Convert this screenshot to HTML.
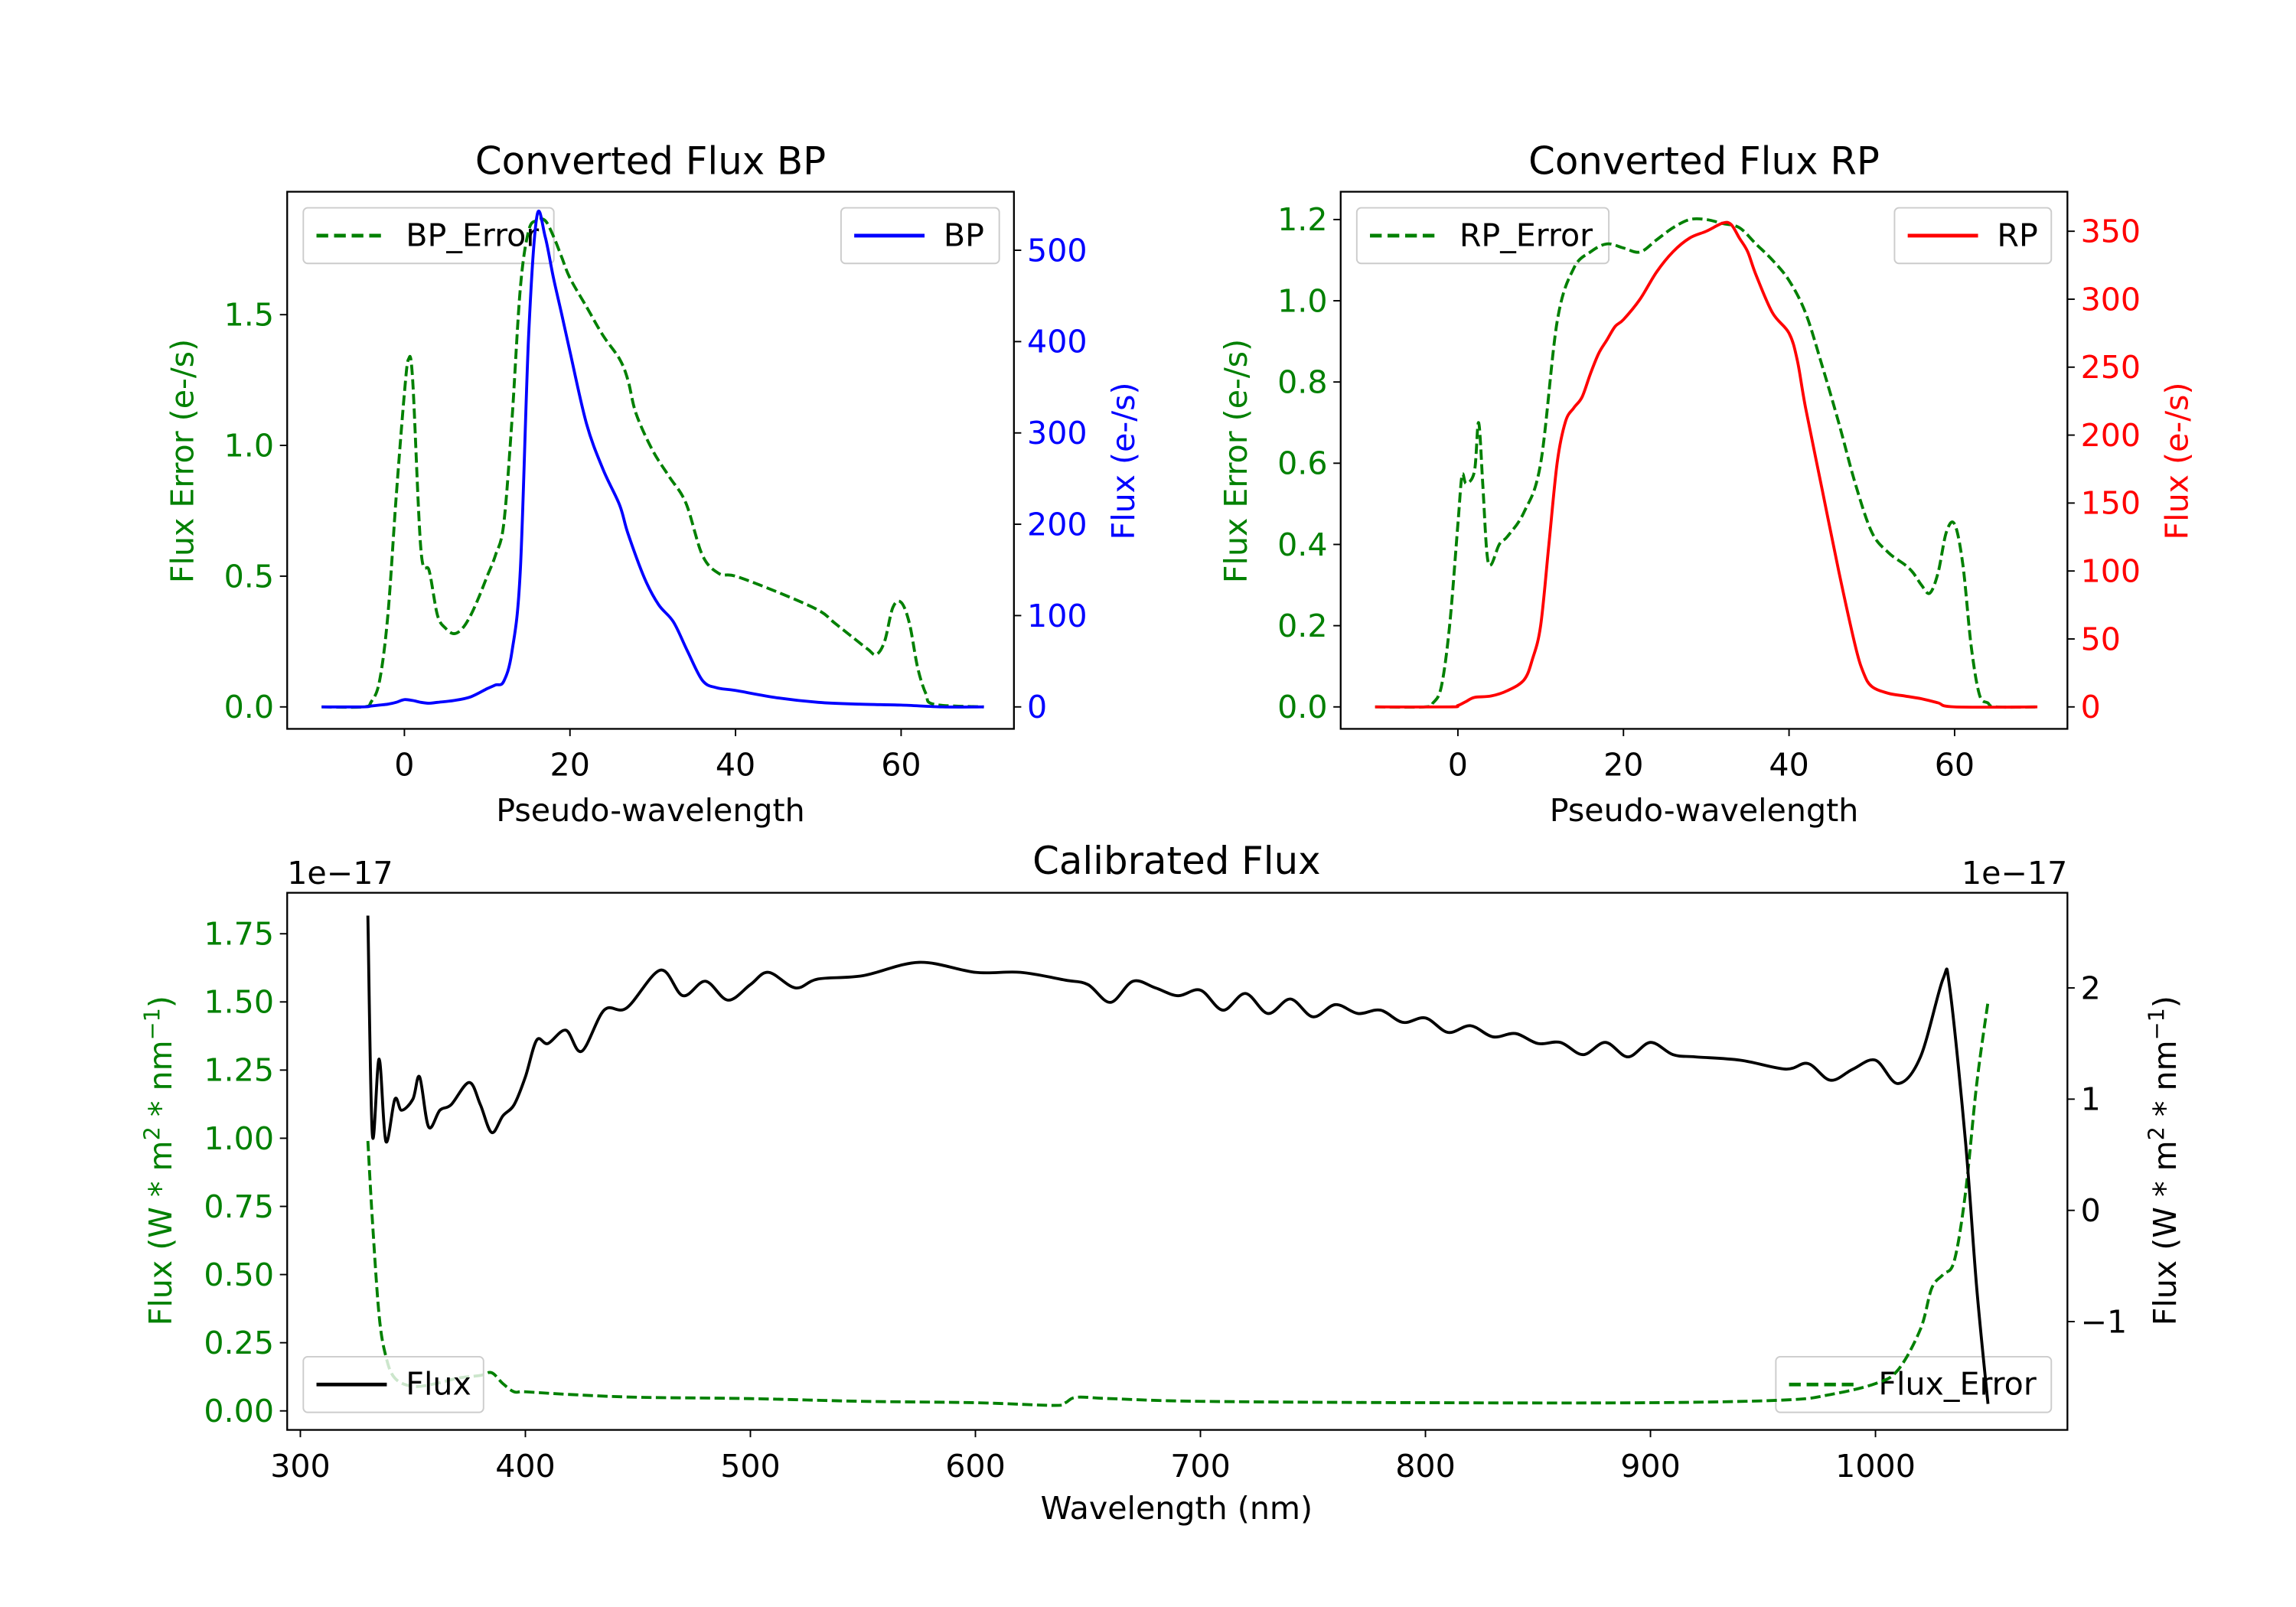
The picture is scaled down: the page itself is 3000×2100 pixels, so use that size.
<!DOCTYPE html>
<html><head><meta charset="utf-8"><style>
html,body{margin:0;padding:0;background:#fff}
svg{display:block}
text{font-family:"DejaVu Sans","Liberation Sans",sans-serif}
</style></head><body>
<svg id="fig" xmlns="http://www.w3.org/2000/svg" width="3000" height="2100" viewBox="0 0 1567 1098" preserveAspectRatio="none">
<rect width="1567" height="1098" fill="#fff"/>
</svg>
<script>
// ---- data ----
const bpX = [-10,-5,-4,-3,-2,-1,0,1,2,3,4,6,8,10,11,12,13,14,15,16,17,18,19,20,22,24,26,27,29,30.7,32.5,34.2,36,37.7,40,45,50,55,60,65,70];
const bpFlux = [0,0,1,2,3,5,8,7,5,4,5,7,11,20,24,28,61,149,405,537,515,470,430,389,310,260,221,190,141,112,93,61,29,21,18,10,5,3,2,0,0];
const bpErrX = [-10,-5,-4,-3,-2,-1,0,0.5,1,2,3,4,5,6,7,8,9,10,11,12,13,14,15,16,17,18,19,20,22,24,26,27,28,30,32,34,36,38,40,45,50,52,54,56,57,58,59,60,61,62,63,64,70];
const bpErr = [0,0,0.02,0.1,0.35,0.8,1.2,1.33,1.25,0.6,0.52,0.35,0.3,0.28,0.3,0.35,0.42,0.5,0.58,0.7,1.1,1.6,1.82,1.86,1.86,1.8,1.72,1.64,1.53,1.42,1.33,1.25,1.12,0.98,0.88,0.78,0.58,0.51,0.5,0.44,0.37,0.32,0.27,0.22,0.2,0.25,0.38,0.4,0.32,0.15,0.05,0.01,0];
const rpX = [-10,-1,0,1,2,4,6,8,9,10,11,12,13,14,15,16,17,18,19,20,22,24,26,28,30,32,33,34,35,36,38,40,41,42,44,46,48,49,50,52,54,56,58,60,70];
const rpFlux = [0,0,1,4,7,8,12,20,35,60,120,180,210,220,228,245,260,270,280,285,300,320,335,345,350,356,355,345,335,318,290,275,255,220,160,100,45,25,15,10,8,6,3,0,0];
const rpErrX = [-10,-4,-3,-2,-1,0,0.5,1,2,2.5,3,3.5,4,5,6,8,10,12,14,16,18,20,22,24,26,28,30,32,34,36,38,40,42,44,46,48,50,52,54,55,56,57,58,59,60,61,62,63,64,65,70];
const rpErr = [0,0,0.01,0.05,0.2,0.45,0.57,0.55,0.58,0.7,0.55,0.38,0.35,0.4,0.42,0.48,0.6,0.95,1.08,1.12,1.14,1.13,1.12,1.15,1.18,1.2,1.2,1.19,1.18,1.14,1.1,1.05,0.97,0.84,0.7,0.55,0.43,0.38,0.35,0.33,0.3,0.28,0.33,0.43,0.45,0.35,0.15,0.03,0.01,0,0];
const calX = [330,332,335,338,342,345,350,353,357,362,367,375,380,385,390,395,400,405,410,418,425,435,445,460,470,480,490,500,508,520,530,550,575,600,620,640,650,660,670,680,690,700,710,720,730,740,750,760,770,780,790,800,810,820,830,840,850,860,870,880,890,900,910,920,940,960,970,980,990,1000,1010,1020,1030,1033,1040,1045,1050];
const calFlux = [2.65,0.68,1.36,0.62,1.0,0.9,1.0,1.2,0.75,0.9,0.95,1.15,0.95,0.7,0.85,0.95,1.2,1.53,1.5,1.62,1.43,1.8,1.82,2.16,1.93,2.06,1.89,2.03,2.14,2.0,2.08,2.11,2.23,2.14,2.14,2.07,2.03,1.87,2.06,2.0,1.93,1.98,1.8,1.95,1.77,1.9,1.74,1.85,1.77,1.8,1.69,1.73,1.6,1.66,1.56,1.59,1.5,1.51,1.4,1.51,1.38,1.51,1.4,1.38,1.35,1.27,1.32,1.17,1.27,1.35,1.14,1.38,2.08,2.0,0.62,-0.7,-1.74];
const calErrX = [330,332,335,338,342,350,360,370,380,385,390,395,400,420,450,500,550,600,635,640,645,660,700,800,900,960,980,1000,1010,1020,1025,1030,1035,1040,1045,1050];
const calErr = [0.99,0.7,0.35,0.2,0.12,0.09,0.1,0.12,0.13,0.14,0.1,0.07,0.07,0.06,0.05,0.045,0.035,0.03,0.02,0.03,0.05,0.045,0.035,0.03,0.03,0.04,0.06,0.1,0.15,0.3,0.45,0.5,0.55,0.8,1.2,1.5];
const bpTicksX=[0,20,40,60], bpTicksL=[0,0.5,1.0,1.5], bpTicksR=[0,100,200,300,400,500];
const rpTicksL=[0,0.2,0.4,0.6,0.8,1.0,1.2], rpTicksR=[0,50,100,150,200,250,300,350];
const calTicksX=[300,400,500,600,700,800,900,1000], calTicksL=[0,0.25,0.5,0.75,1.0,1.25,1.5,1.75], calTicksR=[-1,0,1,2];

const NS='http://www.w3.org/2000/svg', svg=document.getElementById('fig');
const FS=21.5, TS=26;
function el(tag,attrs,parent,txt){const e=document.createElementNS(NS,tag);for(const k in attrs)e.setAttribute(k,attrs[k]);if(txt!==undefined)e.textContent=txt;(parent||svg).appendChild(e);return e;}
function lin(d0,d1,p0,p1){return v=>p0+(v-d0)*(p1-p0)/(d1-d0);}
function smoothPath(pts){
  let d='M'+pts[0][0].toFixed(2)+','+pts[0][1].toFixed(2);
  for(let i=0;i<pts.length-1;i++){
    const p0=pts[Math.max(0,i-1)],p1=pts[i],p2=pts[i+1],p3=pts[Math.min(pts.length-1,i+2)];
    const t=0.5/3;
    const c1=[p1[0]+(p2[0]-p0[0])*t,p1[1]+(p2[1]-p0[1])*t];
    const c2=[p2[0]-(p3[0]-p1[0])*t,p2[1]-(p3[1]-p1[1])*t];
    d+=' C'+c1.map(v=>v.toFixed(2)).join(',')+' '+c2.map(v=>v.toFixed(2)).join(',')+' '+p2[0].toFixed(2)+','+p2[1].toFixed(2);
  }
  return d;
}
function line(xs,ys,fx,fy,color,dash,name){
  const pts=xs.map((x,i)=>[fx(x),fy(ys[i])]);
  const p=el('path',{d:smoothPath(pts),fill:'none',stroke:color,'stroke-width':2,'stroke-linejoin':'round','stroke-dasharray':dash?'7,3':'none'});
  
  
}
function yTicks(ticks,fy,x,side,color,fmt,name){
  ticks.forEach(t=>{const y=fy(t);
    el('line',{x1:x,x2:x+(side<0?-5:5),y1:y,y2:y,stroke:'#000','stroke-width':1});
    const tx=el('text',{x:side<0?x-9:x+9,y:y+7.5,'font-size':FS,fill:color,'text-anchor':side<0?'end':'start'},svg,fmt(t));
    
    
  });
}
function xTicks(ticks,fx,y,name){
  ticks.forEach(t=>{const x=fx(t);
    el('line',{x1:x,x2:x,y1:y,y2:y+5,stroke:'#000','stroke-width':1});
    const tx=el('text',{x:x,y:y+32,'font-size':FS,'text-anchor':'middle'},svg,String(t));
    
    
  });
}
function legend(x,y,w,label,color,dash,name){
  const g=el('g',{});
  
  
  el('rect',{x:x,y:y,width:w,height:38,rx:3,fill:'#fff','fill-opacity':0.8,stroke:'#ccc','stroke-width':1},g);
  el('line',{x1:x+9,x2:x+57,y1:y+19,y2:y+19,stroke:color,'stroke-width':2.5,'stroke-dasharray':dash?'8,4':'none'},g);
  el('text',{x:x+70,y:y+26,'font-size':FS},g,label);
}
function label(x,y,txt,color,rot,size,name,anchor){
  const t=el('text',{x:x,y:y,'font-size':size||FS,fill:color||'#000','text-anchor':anchor||'middle',transform:rot?`rotate(-90 ${x} ${y})`:''},svg,txt);
  
  
  return t;
}
const G='#008000';
const f1=v=>v.toFixed(1), f0=v=>String(v), f2=v=>v.toFixed(2), fm=v=>v<0?'\u2212'+(-v):String(v);

// ---- BP panel ----
{const L=196,R=692,T=131,B=498;
 const fx=lin(0,20,276,389), fyL=lin(0,1.5,483,215), fyR=lin(0,500,483,171);
 el('rect',{x:L,y:T,width:R-L,height:B-T,fill:'#fff'});
 legend(207,142,171,'BP_Error',G,true,'bp-error-legend');
 line(bpErrX,bpErr,fx,fyL,G,true,'bp-error-line');
 legend(574,142,108,'BP','#0000ff',false,'bp-legend');
 line(bpX,bpFlux,fx,fyR,'#0000ff',false,'bp-flux-line');
 el('rect',{x:L,y:T,width:R-L,height:B-T,fill:'none',stroke:'#000','stroke-width':1.2});
 xTicks(bpTicksX,fx,B,'bp-x-tick');
 yTicks(bpTicksL,fyL,L,-1,G,f1,'bp-left-tick');
 yTicks(bpTicksR,fyR,R,1,'#0000ff',f0,'bp-right-tick');
 label(444,119,'Converted Flux BP','#000',false,TS,'bp-title');
 label(444,561,'Pseudo-wavelength','#000',false,FS,'bp-x-title');
 label(132,315,'Flux Error (e-/s)',G,true,FS,'bp-left-y-title');
 label(774,315,'Flux (e-/s)','#0000ff',true,FS,'bp-right-y-title');
}
// ---- RP panel ----
{const L=915,R=1411,T=131,B=498;
 const fx=lin(0,20,995,1108), fyL=lin(0,1.2,483,150), fyR=lin(0,350,483,158);
 el('rect',{x:L,y:T,width:R-L,height:B-T,fill:'#fff'});
 legend(926,142,172,'RP_Error',G,true,'rp-error-legend');
 line(rpErrX,rpErr,fx,fyL,G,true,'rp-error-line');
 legend(1293,142,107,'RP','#ff0000',false,'rp-legend');
 line(rpX,rpFlux,fx,fyR,'#ff0000',false,'rp-flux-line');
 el('rect',{x:L,y:T,width:R-L,height:B-T,fill:'none',stroke:'#000','stroke-width':1.2});
 xTicks(bpTicksX,fx,B,'rp-x-tick');
 yTicks(rpTicksL,fyL,L,-1,G,f1,'rp-left-tick');
 yTicks(rpTicksR,fyR,R,1,'#ff0000',f0,'rp-right-tick');
 label(1163,119,'Converted Flux RP','#000',false,TS,'rp-title');
 label(1163,561,'Pseudo-wavelength','#000',false,FS,'rp-x-title');
 label(851,315,'Flux Error (e-/s)',G,true,FS,'rp-left-y-title');
 label(1493,315,'Flux (e-/s)','#ff0000',true,FS,'rp-right-y-title');
}
// ---- Calibrated panel ----
{const L=196,R=1411,T=610,B=977;
 const fx=lin(300,1000,205,1280), fyL=lin(0,1.75,964,638), fyR=lin(0,2,827,675);
 el('rect',{x:L,y:T,width:R-L,height:B-T,fill:'#fff'});
 legend(1212,927,188,'Flux_Error',G,true,'flux-error-legend');
 line(calErrX,calErr,fx,fyL,G,true,'flux-error-line');
 legend(207,927,123,'Flux','#000',false,'flux-legend');
 line(calX,calFlux,fx,fyR,'#000',false,'flux-line');
 el('rect',{x:L,y:T,width:R-L,height:B-T,fill:'none',stroke:'#000','stroke-width':1.2});
 xTicks(calTicksX,fx,B,'cal-x-tick');
 yTicks(calTicksL,fyL,L,-1,G,f2,'cal-left-tick');
 yTicks(calTicksR,fyR,R,1,'#000',fm,'cal-right-tick');
 label(803,597,'Calibrated Flux','#000',false,TS,'cal-title');
 label(803,1038,'Wavelength (nm)','#000',false,FS,'cal-x-title');
 label(196,604,'1e\u221217','#000',false,FS,'left-offset-text','start');
 label(1411,604,'1e\u221217','#000',false,FS,'right-offset-text','end');
 const t1=label(117,793,'','#008000',true,FS,'cal-left-y-title');
 t1.innerHTML='Flux (W * m<tspan dy="-8" font-size="15">2</tspan><tspan dy="8"> * nm</tspan><tspan dy="-8" font-size="15">\u22121</tspan><tspan dy="8">)</tspan>';
 const t2=label(1485,793,'','#000',true,FS,'cal-right-y-title');
 t2.innerHTML='Flux (W * m<tspan dy="-8" font-size="15">2</tspan><tspan dy="8"> * nm</tspan><tspan dy="-8" font-size="15">\u22121</tspan><tspan dy="8">)</tspan>';
}
</script>
</body></html>
